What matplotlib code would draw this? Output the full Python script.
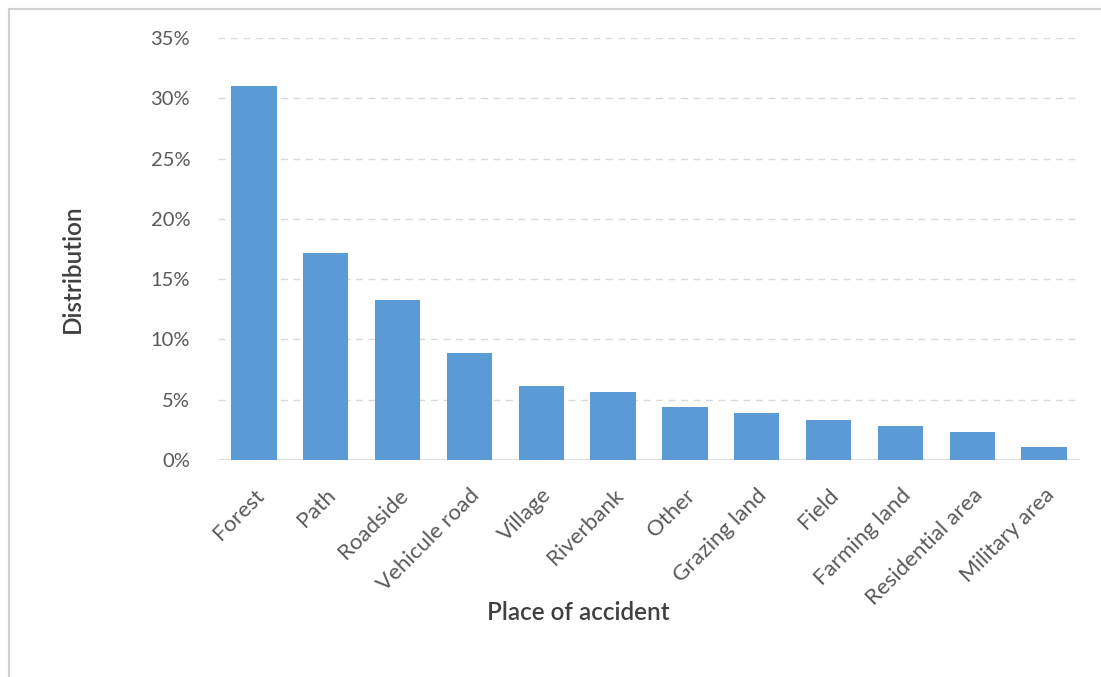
import matplotlib
matplotlib.use("Agg")
import matplotlib.pyplot as plt
import matplotlib.patches as patches
from matplotlib.ticker import FuncFormatter

# place of accident and share of accidents (%)
places = ["Forest", "Path", "Roadside", "Vehicule road", "Village", "Riverbank",
          "Other", "Grazing land", "Field", "Farming land", "Residential area", "Military area"]
shares = [31.0, 17.2, 13.3, 8.9, 6.1, 5.6, 4.4, 3.9, 3.3, 2.8, 2.3, 1.1]
yticks = [0, 5, 10, 15, 20, 25, 30, 35]

plt.rcParams["font.family"] = ["Lato", "DejaVu Sans"]

W, H = 1101, 677
fig = plt.figure(figsize=(W / 100, H / 100), dpi=100)
ax = fig.add_axes([218 / W, 1 - 460 / H, (1080 - 218) / W, (460 - 38) / H])

ax.bar(range(len(places)), shares, width=0.63, color="#5B9BD5", zorder=3)

ax.set_xlim(-0.5, len(places) - 0.5)
ax.set_ylim(0, 35)
ax.set_yticks(yticks)
ax.yaxis.set_major_formatter(FuncFormatter(lambda v, p: "{:.0f}%".format(v)))
ax.grid(axis="y", color="#D9D9D9", linestyle=(0, (5, 4)), linewidth=1, zorder=0)
ax.axhline(0, color="#D9D9D9", linewidth=1.2, zorder=2)

for s in ax.spines.values():
    s.set_visible(False)
ax.tick_params(axis="both", length=0, colors="#595959")
ax.tick_params(axis="y", pad=20, labelsize=14.5)
ax.set_xticks(range(len(places)))
ax.set_xticklabels(places, rotation=45, ha="right", rotation_mode="anchor")
ax.tick_params(axis="x", pad=18, labelsize=16)

fig.text(578 / W, 1 - 612 / H, "Place of accident", ha="center", va="center",
         fontsize=17.5, color="#404040", fontweight="semibold")
fig.text(72 / W, 1 - 269 / H, "Distribution", ha="center", va="center",
         rotation=90, fontsize=17.5, color="#404040", fontweight="semibold")

# outer frame of the chart area (only left and top edges visible)
fig.patches.append(patches.Rectangle((9 / W, -0.5), 2, 1.5 - 9 / H, transform=fig.transFigure,
                                     fill=False, edgecolor="#D0D0D0", linewidth=1.5))

fig.savefig("out.png", dpi=100)
